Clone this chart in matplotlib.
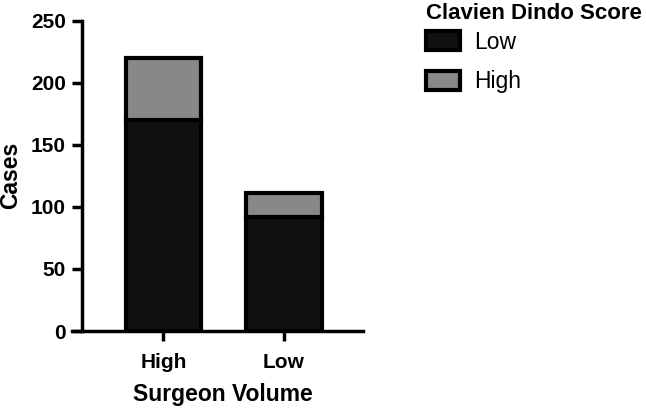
import matplotlib.pyplot as plt
import numpy as np

plt.rcParams["font.family"] = ["Liberation Sans", "DejaVu Sans"]

categories = ["High", "Low"]
low_scores = [170, 92]
high_scores = [50, 19]
series_names = ["Low", "High"]
yticks = [0, 50, 100, 150, 200, 250]

fig = plt.figure(figsize=(6.46, 4.09), dpi=100)
ax = fig.add_axes([0.1265, 0.1907, 0.4355, 0.7587])

x = np.arange(len(categories))
ax.bar(x, low_scores, width=0.63, color="#111111", edgecolor="black",
       linewidth=3, label=series_names[0], zorder=2)
ax.bar(x, high_scores, width=0.63, bottom=low_scores, color="#888888",
       edgecolor="black", linewidth=3, label=series_names[1], zorder=2)

ax.set_xlim(-0.68, 1.66)
ax.set_ylim(0, 250)
ax.set_yticks(yticks)
ax.set_xticks(x)
ax.set_xticklabels(categories)

for side in ("top", "right"):
    ax.spines[side].set_visible(False)
for side in ("left", "bottom"):
    ax.spines[side].set_linewidth(2.5)
ax.spines["bottom"].set_zorder(3)
ax.spines["bottom"].set_bounds(-0.68 - 10 / 120, 1.66)

ax.tick_params(axis="both", width=2.5, length=7.5, labelsize=15)
ax.tick_params(axis="x", pad=8)
ax.tick_params(axis="y", pad=4)
for lab in ax.get_xticklabels() + ax.get_yticklabels():
    lab.set_fontweight("bold")

ax.set_ylabel("Cases", fontsize=16.5, fontweight="bold", labelpad=6)
ax.set_xlabel("Surgeon Volume", fontsize=16.5, fontweight="bold", labelpad=8)

# legend title as separate text so its gap can differ from entry spacing
fig.text(0.659, 0.968, "Clavien Dindo Score", fontsize=16,
         fontweight="bold", ha="left", va="center")
fig.legend(
    loc="upper left",
    bbox_to_anchor=(0.659, 0.925),
    frameon=False,
    fontsize=16.5,
    borderpad=0,
    borderaxespad=0,
    handlelength=1.48,
    handleheight=0.87,
    handletextpad=0.65,
    labelspacing=0.72,
)

fig.savefig("out.png", dpi=100)
